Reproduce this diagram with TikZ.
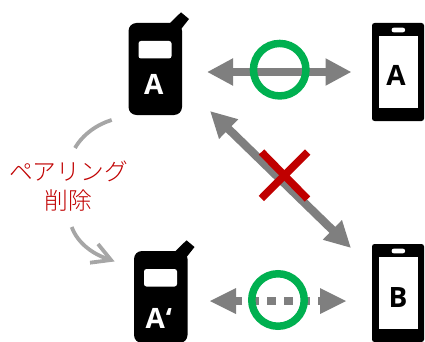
\documentclass[tikz,border=0pt]{standalone}
\usepackage{fontspec}
\setmainfont{Open Sans}
\newfontfamily\cjk[UprightFont={* Light}]{Noto Sans CJK JP}
\usetikzlibrary{arrows.meta}
\definecolor{arrowgray}{HTML}{7F7F7F}
\definecolor{arcgray}{HTML}{A6A6A6}
\definecolor{okgreen}{HTML}{00B050}
\definecolor{ngred}{HTML}{C00000}
\tikzset{
  x=1pt,y=-1pt,
  bigarrow/.style={draw=arrowgray,line width=8.3pt,{Triangle[length=26pt,width=25.5pt,fill=arrowgray]}-{Triangle[length=26pt,width=25.5pt,fill=arrowgray]}},
  dotline/.style={draw=arrowgray,line width=8pt,dash pattern=on 8.5pt off 8.5pt},
  arc line/.style={draw=arcgray,line width=3.8pt},
  okring/.style={circle,draw=okgreen,line width=7.5pt,minimum size=52.5pt,inner sep=0pt},
  ngcross/.style={draw=ngred,line width=7.5pt},
  label/.style={inner sep=0pt,anchor=base,font=\bfseries\fontsize{28}{28}\selectfont},
  redtext/.style={inner sep=0pt,align=center,text=ngred,font=\cjk\fontsize{23.7}{29}\selectfont},
  devbody/.style={fill=black,rounded corners=8pt},
  scr/.style={fill=white},
}
\newcommand{\keitai}[2]{% x, y (top-left body)
  \fill[black] (#1+39.5,#2+2) -- (#1+52.5,#2-10.7) -- (#1+60.5,#2-4) -- (#1+49.5,#2+10) -- cycle;
  \fill[devbody] (#1,#2) rectangle (#1+53.5,#2+92);
  \fill[scr,rounded corners=2.5pt] (#1+10,#2+18) rectangle (#1+43,#2+35.5);
}
\newcommand{\sumaho}[2]{%
  \fill[black,rounded corners=2.5pt] (#1,#2) rectangle (#1+52,#2+98);
  \fill[scr] (#1+6.5,#2+13) rectangle (#1+46,#2+85);
  \fill[white,rounded corners=2pt] (#1+19.7,#2+4.7) rectangle (#1+33,#2+9.3);
}
\begin{document}
\begin{tikzpicture}
\useasboundingbox (0,0) rectangle (425,342);
\keitai{128.5}{23}
\keitai{134}{251}
\sumaho{372}{23}
\sumaho{372}{244}
\node[label,text=white] (la) at (153.7,94.5) {A};
\node[label,text=white,anchor=base west] (lap) at (145.3,328) {A\kern1pt‘};
\node[label,text=black] (ls) at (396,85) {A};
\node[label,text=black] (lb) at (398,307) {B};
\coordinate (ab1) at (207,72);
\coordinate (ab2) at (351.5,72);
\coordinate (d1) at (210,111);
\coordinate (d2) at (351,248);
\coordinate (b1) at (210,301);
\coordinate (b2) at (346,301);
\coordinate (bi1) at (233,301);
\coordinate (bi2) at (323,301);
\draw[bigarrow] (ab1) -- (ab2);
\draw[bigarrow] (d1) -- (d2);
\draw[dotline] (bi1) -- (bi2);
\fill[arrowgray] (b1) -- (236,288) -- (236,314) -- cycle;
\fill[arrowgray] (b2) -- (320,288) -- (320,314) -- cycle;
\node[okring] (ok1) at (279.7,69.7) {};
\node[okring] (ok2) at (278,300) {};
\coordinate (c1) at (261.5,152);
\coordinate (c2) at (307.5,199);
\coordinate (c3) at (307.7,152);
\coordinate (c4) at (261.3,198.5);
\draw[ngcross] (c1) -- (c2);
\draw[ngcross] (c3) -- (c4);
\node[redtext] (txt) at (68.5,186.5) {ペアリング\\削除};
\coordinate (a1) at (111.7,120);
\coordinate (a2) at (75,148);
\coordinate (a3) at (71.7,227);
\coordinate (a4) at (111,260);
\coordinate (t1) at (98,244);
\coordinate (t2) at (90,262.7);
\draw[arc line] (a1) .. controls (98,124) and (83,134) .. (a2);
\draw[arc line] (a3) .. controls (78,244) and (94,255) .. (a4);
\draw[arc line,miter limit=10] (t1) -- (a4) -- (t2);
\end{tikzpicture}
\end{document}
